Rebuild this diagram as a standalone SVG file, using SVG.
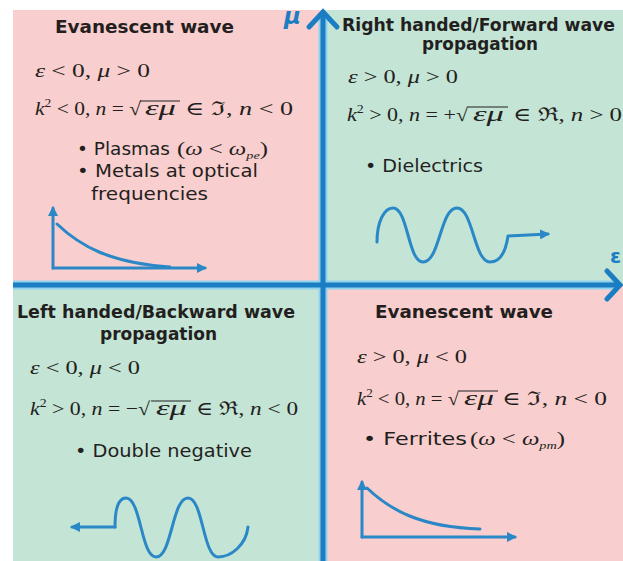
<svg xmlns="http://www.w3.org/2000/svg" width="623" height="561" viewBox="0 0 623 561">
<defs>
<style>
.t{font-family:"DejaVu Sans","Liberation Sans",sans-serif;font-weight:bold;font-size:17px;fill:#231f20}
.b{font-family:"DejaVu Sans","Liberation Sans",sans-serif;font-size:17px;fill:#231f20}
.m{font-family:"Liberation Serif","DejaVu Serif",serif;font-size:19px;fill:#231f20}
.r{font-family:"Liberation Serif","DejaVu Serif",serif;font-size:21px;font-style:italic;fill:#231f20}
.i{font-style:italic}
.s{font-size:11px;font-style:italic}
.p{fill:none;stroke:#2a88c6;stroke-width:3;stroke-linecap:round;stroke-linejoin:round}
.vin{stroke:#231f20;stroke-width:1.2}
.pink{fill:#f9cece}
.green{fill:#c4e4d6}
</style>
<marker id="ah" viewBox="0 0 10 10" refX="8" refY="5" markerWidth="10" markerHeight="10" markerUnits="userSpaceOnUse" orient="auto">
<path d="M0,0 L10,5 L0,10 z" fill="#2a88c6"/>
</marker>
</defs>
<rect width="623" height="561" fill="#ffffff"/>
<rect class="pink" x="13" y="10" width="310" height="275"/>
<rect class="green" x="323" y="10" width="300" height="275"/>
<rect class="green" x="13" y="285" width="310" height="276"/>
<rect class="pink" x="323" y="285" width="300" height="276"/>

<g id="q-top-left">
<text class="t" x="55" y="33" textLength="179" lengthAdjust="spacingAndGlyphs">Evanescent wave</text>
<text class="m" x="35" y="77" textLength="115" lengthAdjust="spacingAndGlyphs"><tspan class="i">ε</tspan> &lt; 0, <tspan class="i">μ</tspan> &gt; 0</text>
<text class="m" x="35" y="115" textLength="106" lengthAdjust="spacingAndGlyphs"><tspan class="i">k</tspan><tspan font-size="12" dy="-8">2</tspan><tspan dy="8"> &lt; 0, </tspan><tspan class="i">n</tspan> = √</text>
<text class="r" x="145" y="115" textLength="31" lengthAdjust="spacingAndGlyphs">εμ</text>
<line class="vin" x1="140" y1="101" x2="180" y2="101"/>
<text class="m" x="185" y="115" textLength="108" lengthAdjust="spacingAndGlyphs">∈ ℑ, <tspan class="i">n</tspan> &lt; 0</text>
<text class="b" x="77" y="155" textLength="93" lengthAdjust="spacingAndGlyphs">• Plasmas</text>
<text class="m" x="177" y="155" textLength="91" lengthAdjust="spacingAndGlyphs">(<tspan class="i">ω</tspan> &lt; <tspan class="i">ω</tspan><tspan class="s" dy="4">pe</tspan><tspan dy="-4">)</tspan></text>
<text class="b" x="77" y="177" textLength="181" lengthAdjust="spacingAndGlyphs">• Metals at optical</text>
<text class="b" x="91" y="200" textLength="117" lengthAdjust="spacingAndGlyphs">frequencies</text>
<path class="p" d="M53,268 L53,208" marker-end="url(#ah)"/>
<path class="p" d="M53,268 L205,268" marker-end="url(#ah)"/>
<path class="p" d="M57,224 C80,246 110,263 170,267"/>
</g>

<g id="q-top-right">
<text class="t" x="342" y="31" textLength="273" lengthAdjust="spacingAndGlyphs">Right handed/Forward wave</text>
<text class="t" x="422" y="50" textLength="116" lengthAdjust="spacingAndGlyphs">propagation</text>
<text class="m" x="348" y="83" textLength="110" lengthAdjust="spacingAndGlyphs"><tspan class="i">ε</tspan> &gt; 0, <tspan class="i">μ</tspan> &gt; 0</text>
<text class="m" x="347" y="121" textLength="121" lengthAdjust="spacingAndGlyphs"><tspan class="i">k</tspan><tspan font-size="12" dy="-8">2</tspan><tspan dy="8"> &gt; 0, </tspan><tspan class="i">n</tspan> = +√</text>
<text class="r" x="473" y="121" textLength="31" lengthAdjust="spacingAndGlyphs">εμ</text>
<line class="vin" x1="468" y1="107" x2="508" y2="107"/>
<text class="m" x="513" y="121" textLength="109" lengthAdjust="spacingAndGlyphs">∈ ℜ, <tspan class="i">n</tspan> &gt; 0</text>
<text class="b" x="365" y="172" textLength="118" lengthAdjust="spacingAndGlyphs">• Dielectrics</text>
<path class="p" d="M377,242 C377,222 384,208 393,208 C408,208 408,262 423,262 C440,262 440,208 457,208 C473,208 474,262 490,262 C501,262 506,250 508,236 L548,234" marker-end="url(#ah)"/>
</g>

<g id="q-bottom-left">
<text class="t" x="17" y="318" textLength="278" lengthAdjust="spacingAndGlyphs">Left handed/Backward wave</text>
<text class="t" x="100" y="340" textLength="117" lengthAdjust="spacingAndGlyphs">propagation</text>
<text class="m" x="30" y="374" textLength="110" lengthAdjust="spacingAndGlyphs"><tspan class="i">ε</tspan> &lt; 0, <tspan class="i">μ</tspan> &lt; 0</text>
<text class="m" x="30" y="415" textLength="120" lengthAdjust="spacingAndGlyphs"><tspan class="i">k</tspan><tspan font-size="12" dy="-8">2</tspan><tspan dy="8"> &gt; 0, </tspan><tspan class="i">n</tspan> = −√</text>
<text class="r" x="156" y="415" textLength="31" lengthAdjust="spacingAndGlyphs">εμ</text>
<line class="vin" x1="151" y1="401" x2="191" y2="401"/>
<text class="m" x="196" y="415" textLength="102" lengthAdjust="spacingAndGlyphs">∈ ℜ, <tspan class="i">n</tspan> &lt; 0</text>
<text class="b" x="75" y="457" textLength="177" lengthAdjust="spacingAndGlyphs">• Double negative</text>
<path class="p" d="M115,527 L72,527" marker-end="url(#ah)"/>
<path class="p" d="M115,527 C115,508 119,498 126,498 C141,498 141,557 156,557 C172,557 172,498 188,498 C203,498 203,557 218,557 C231,557 246,545 248,527"/>
</g>

<g id="q-bottom-right">
<text class="t" x="375" y="318" textLength="178" lengthAdjust="spacingAndGlyphs">Evanescent wave</text>
<text class="m" x="357" y="363" textLength="110" lengthAdjust="spacingAndGlyphs"><tspan class="i">ε</tspan> &gt; 0, <tspan class="i">μ</tspan> &lt; 0</text>
<text class="m" x="357" y="405" textLength="102" lengthAdjust="spacingAndGlyphs"><tspan class="i">k</tspan><tspan font-size="12" dy="-8">2</tspan><tspan dy="8"> &lt; 0, </tspan><tspan class="i">n</tspan> = √</text>
<text class="r" x="464" y="405" textLength="30" lengthAdjust="spacingAndGlyphs">εμ</text>
<line class="vin" x1="459" y1="391" x2="498" y2="391"/>
<text class="m" x="502" y="405" textLength="105" lengthAdjust="spacingAndGlyphs">∈ ℑ, <tspan class="i">n</tspan> &lt; 0</text>
<text class="b" x="363" y="445" textLength="104" lengthAdjust="spacingAndGlyphs">• Ferrites</text>
<text class="m" x="470" y="445" textLength="95" lengthAdjust="spacingAndGlyphs">(<tspan class="i">ω</tspan> &lt; <tspan class="i">ω</tspan><tspan class="s" dy="4">pm</tspan><tspan dy="-4">)</tspan></text>
<path class="p" d="M362,537 L362,482" marker-end="url(#ah)"/>
<path class="p" d="M362,537 L515,537" marker-end="url(#ah)"/>
<path class="p" d="M367,488 C390,510 420,527 480,529"/>
</g>

<g id="axes">
<line x1="13" y1="285" x2="619" y2="285" stroke="#8fd3ef" stroke-width="9"/>
<line x1="323" y1="13" x2="323" y2="561" stroke="#8fd3ef" stroke-width="9"/>
<line x1="13" y1="285" x2="619" y2="285" stroke="#1b7dc2" stroke-width="5"/>
<line x1="323" y1="13" x2="323" y2="561" stroke="#1b7dc2" stroke-width="5"/>
<polyline points="309,27 323,12 337,27" fill="none" stroke="#1b7dc2" stroke-width="5" stroke-linecap="round" stroke-linejoin="miter"/>
<polyline points="607,271 620,285 607,299" fill="none" stroke="#1b7dc2" stroke-width="5" stroke-linecap="round" stroke-linejoin="miter"/>
<text x="284" y="24" font-family="DejaVu Sans,sans-serif" font-weight="bold" font-style="italic" font-size="23" fill="#1b7dc2">μ</text>
<text x="610" y="263" font-family="DejaVu Sans,sans-serif" font-weight="bold" font-size="20" fill="#1b7dc2">ε</text>
</g>
</svg>
